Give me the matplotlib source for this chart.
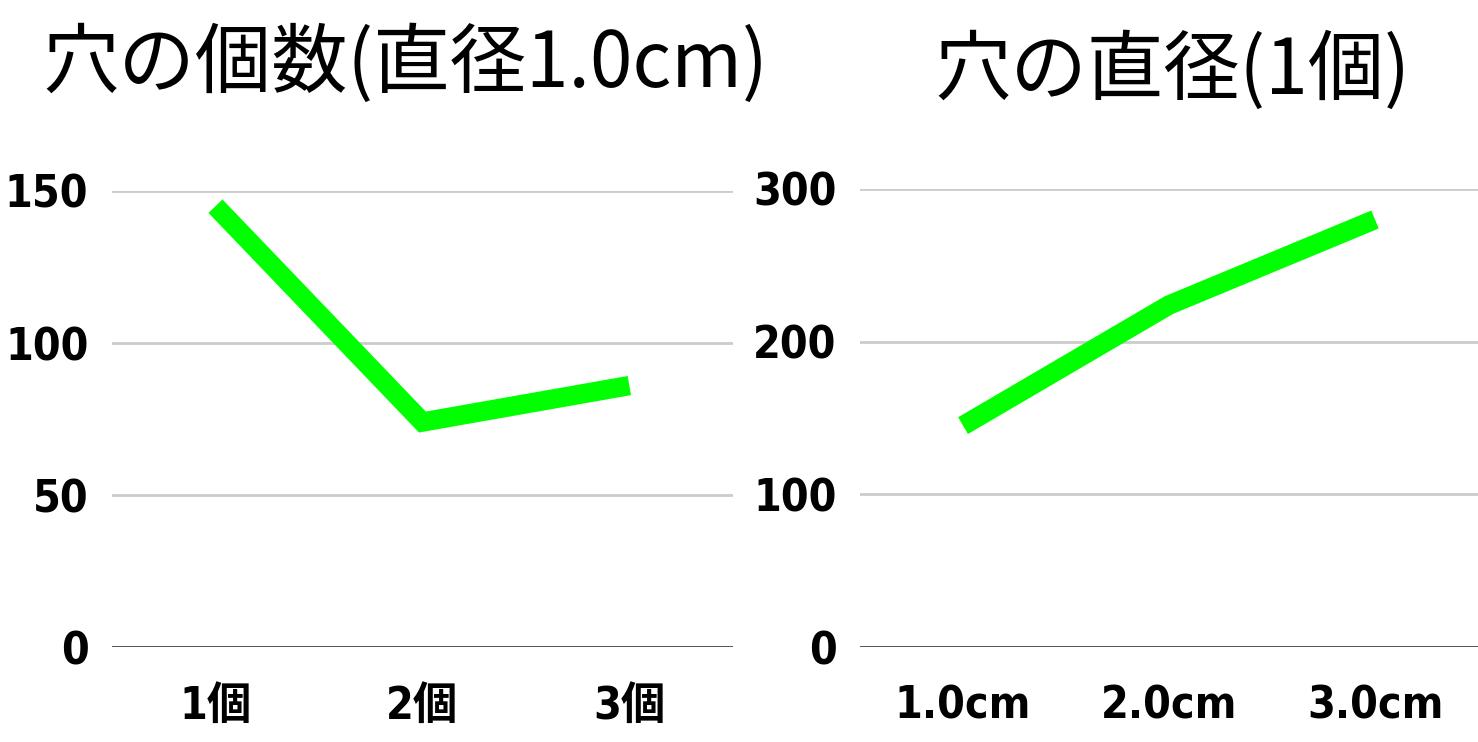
import matplotlib.pyplot as plt

count_labels = ["1個", "2個", "3個"]
count_values = [145, 74, 86]

diam_labels = ["1.0cm", "2.0cm", "3.0cm"]
diam_values = [145, 224, 280]

tick_font = dict(family=["DejaVu Sans", "Noto Sans CJK JP"], weight="bold",
                 stretch="condensed", size=32)
title_font = dict(family=["Noto Sans CJK JP", "DejaVu Sans"], size=55)

fig = plt.figure(figsize=(14.78, 7.42), dpi=100)
ax1 = fig.add_axes([0.0758, 0.128, 0.420, 0.6146])
ax2 = fig.add_axes([0.5819, 0.128, 0.4181, 0.6173])


def style(ax, labels, values, ymax, step, title, title_x, title_y):
    x = range(len(labels))
    ax.plot(x, values, color="#00ff00", lw=14, solid_capstyle="butt",
            solid_joinstyle="miter", clip_on=False, zorder=3)
    ax.set_xlim(-0.5, len(labels) - 0.5)
    ax.set_ylim(0, ymax)
    ax.set_yticks(range(0, ymax + 1, step))
    ax.set_xticks(list(x))
    ax.set_xticklabels(labels, fontdict=tick_font)
    ax.set_yticklabels([str(v) for v in range(0, ymax + 1, step)], fontdict=tick_font)
    ax.tick_params(length=0)
    ax.tick_params(axis="y", pad=17)
    ax.tick_params(axis="x", pad=27)
    for s in ax.spines.values():
        s.set_visible(False)
    for v in range(step, ymax + 1, step):
        ax.axhline(v, color="#cccccc", lw=2, zorder=1)
    ax.axhline(0, color="#444444", lw=2, zorder=2)
    fig.text(title_x, title_y, title, ha="center", va="center", **title_font)


style(ax1, count_labels, count_values, 150, 50, "穴の個数(直径1.0cm)", 0.274, 0.912)
style(ax2, diam_labels, diam_values, 300, 100, "穴の直径(1個)", 0.793, 0.903)

fig.savefig("out.png", dpi=100)
